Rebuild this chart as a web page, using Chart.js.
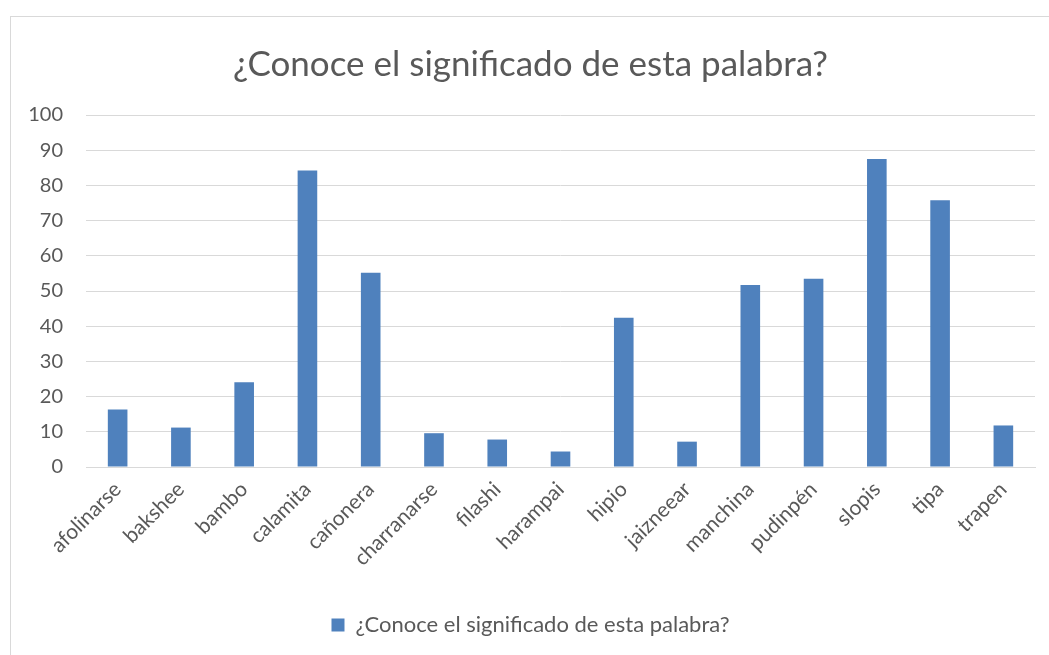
<!DOCTYPE html>
<html>
<head>
<meta charset="utf-8">
<script src="https://cdn.jsdelivr.net/npm/chart.js@4.4.1/dist/chart.umd.min.js"></script>
<style>
  body { margin: 0; background: #fff; }
  #frame { position: absolute; left: 10px; top: 16px; width: 1060px; height: 660px; border: 1px solid #d9d9d9; }
  #wrap { position: absolute; left: 0; top: 0; width: 1049px; height: 655px; }
</style>
</head>
<body>
<div id="frame"></div>
<div id="wrap"><canvas id="chart"></canvas></div>
<script>
/* Data */
const words = ["afolinarse", "bakshee", "bambo", "calamita", "cañonera", "charranarse", "filashi",
  "harampai", "hipio", "jaizneear", "manchina", "pudinpén", "slopis", "tipa", "trapen"];
const known = [16.3, 11.2, 24.1, 84.2, 55.2, 9.6, 7.8, 4.4, 42.4, 7.2, 51.7, 53.5, 87.5, 75.8, 11.8];
const yTicks = [0, 10, 20, 30, 40, 50, 60, 70, 80, 90, 100];
const seriesName = "¿Conoce el significado de esta palabra?";

const textColor = '#595959';
const gridColor = '#d9d9d9';

Chart.defaults.font.family = 'Lato, "Open Sans", sans-serif';
Chart.defaults.color = textColor;

/* Create chart */
new Chart('chart', {
  type: 'bar',
  data: {
    labels: words,
    datasets: [{
      label: seriesName,
      data: known,
      backgroundColor: '#4f81bd',
      categoryPercentage: 1,
      barPercentage: 0.31
    }]
  },
  options: {
    responsive: true,
    maintainAspectRatio: false,
    animation: false,
    // some left padding pushes title/legend centre right like the original
    layout: { padding: { top: 20, right: 14, bottom: 9, left: 26 } },
    scales: {
      x: {
        grid: { display: false },
        border: { color: gridColor },
        ticks: { color: textColor, font: { size: 21 }, minRotation: 45, maxRotation: 45, autoSkip: false, padding: 2 },
        afterFit: (scale) => { scale.height = 137; }
      },
      y: {
        min: 0,
        max: 100,
        afterBuildTicks: (scale) => { scale.ticks = yTicks.map(v => ({ value: v })); },
        grid: { color: gridColor, lineWidth: 1, drawTicks: false },
        border: { display: false },
        ticks: { color: textColor, font: { size: 20 }, padding: 23 },
        afterFit: (scale) => { scale.width = 60; }
      }
    },
    plugins: {
      title: {
        display: true,
        text: seriesName,
        color: textColor,
        font: { size: 35, weight: 'normal' },
        padding: { top: 24, bottom: 29 }
      },
      legend: {
        position: 'bottom',
        labels: { color: textColor, font: { size: 22 }, boxWidth: 13, boxHeight: 13, padding: 10 }
      },
      tooltip: { enabled: false }
    }
  }
});
</script>
</body>
</html>
